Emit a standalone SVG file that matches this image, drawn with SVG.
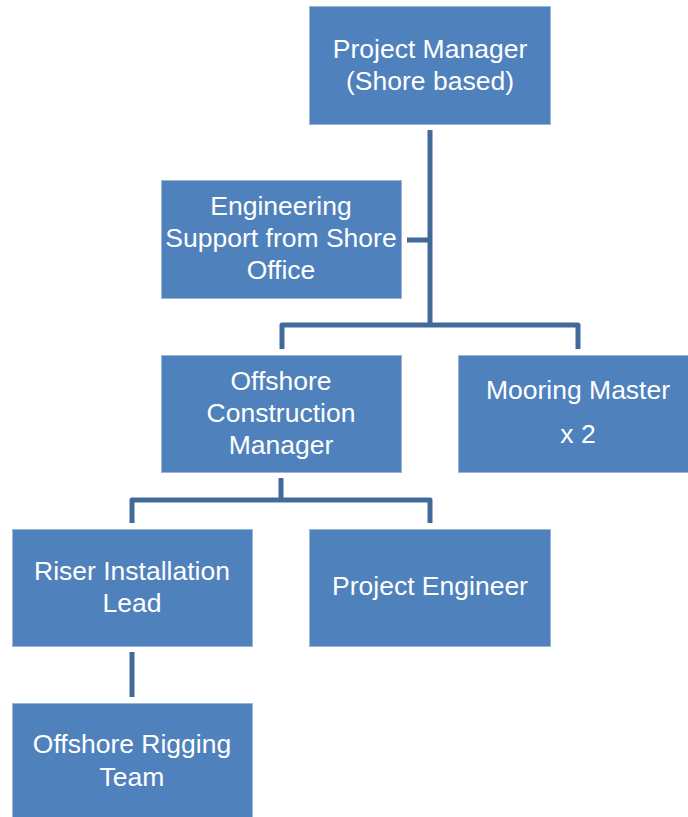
<svg xmlns="http://www.w3.org/2000/svg" width="688" height="817" viewBox="0 0 688 817">
<style>
.box{fill:#4F81BD;stroke:#9CB6D8;stroke-width:1}
.t{font-family:"Liberation Sans",Arial,sans-serif;font-size:26.5px;fill:#FFFFFF;text-anchor:middle}
.c{fill:none;stroke:#41699A;stroke-width:5;stroke-linejoin:round}
</style>
<rect width="688" height="817" fill="#FFFFFF"/>
<g id="connectors">
<path class="c" d="M430 130 V325"/>
<path class="c" d="M407 240 H430"/>
<path class="c" d="M282 349 V325 H578 V349"/>
<path class="c" d="M281 478 V500"/>
<path class="c" d="M132 523 V500 H430 V523"/>
<path class="c" d="M132 652 V697"/>
</g>
<g id="project-manager">
<rect class="box" x="309.5" y="6.5" width="241" height="118"/>
<text class="t" x="430" y="58">Project Manager</text>
<text class="t" x="430" y="90">(Shore based)</text>
</g>
<g id="engineering-support">
<rect class="box" x="161.5" y="180.5" width="240" height="118"/>
<text class="t" x="281" y="215">Engineering</text>
<text class="t" x="281" y="247">Support from Shore</text>
<text class="t" x="281" y="279">Office</text>
</g>
<g id="offshore-construction-manager">
<rect class="box" x="161.5" y="355.5" width="240" height="117"/>
<text class="t" x="281" y="390">Offshore</text>
<text class="t" x="281" y="422">Construction</text>
<text class="t" x="281" y="454">Manager</text>
</g>
<g id="mooring-master">
<rect class="box" x="458.5" y="355.5" width="232" height="117"/>
<text class="t" x="578" y="399">Mooring Master</text>
<text class="t" x="578" y="443">x 2</text>
</g>
<g id="riser-installation-lead">
<rect class="box" x="12.5" y="529.5" width="240" height="117"/>
<text class="t" x="132" y="580">Riser Installation</text>
<text class="t" x="132" y="612">Lead</text>
</g>
<g id="project-engineer">
<rect class="box" x="309.5" y="529.5" width="241" height="117"/>
<text class="t" x="430" y="595">Project Engineer</text>
</g>
<g id="offshore-rigging-team">
<rect class="box" x="12.5" y="703.5" width="240" height="118"/>
<text class="t" x="132" y="753">Offshore Rigging</text>
<text class="t" x="132" y="786">Team</text>
</g>
</svg>
